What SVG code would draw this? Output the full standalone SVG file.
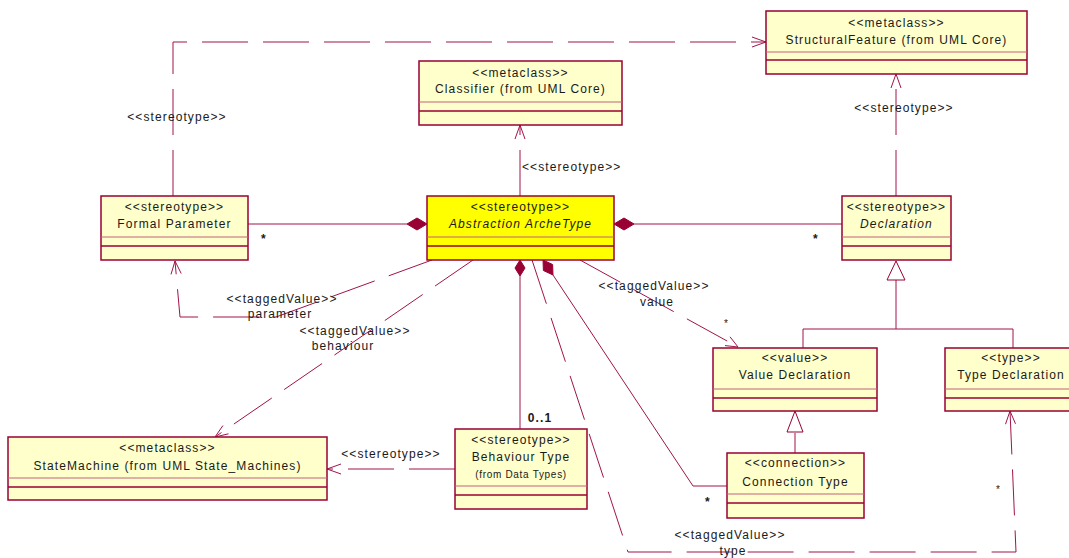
<svg xmlns="http://www.w3.org/2000/svg" width="1069" height="558" viewBox="0 0 1069 558">
<style>
.box{fill:#ffffcc;stroke:#990033;stroke-width:1.5}
.abs{fill:#ffff00;stroke:#990033;stroke-width:1.5}
.sep1{stroke:#c0607a;stroke-width:1}
.sep2{stroke:#990033;stroke-width:1.5}
text{font-family:"Liberation Sans",Arial,sans-serif;font-size:12px;fill:#1a1a1a;letter-spacing:1.1px}
.c{text-anchor:middle}
.it{font-style:italic}
.sm{font-size:10px;letter-spacing:0.7px}
.b{font-weight:bold}
.ln{fill:none;stroke:#a0144a;stroke-width:1}
.dash{stroke-dasharray:46 15}
.arr{fill:none;stroke:#a0144a;stroke-width:1}
.dia{fill:#990033;stroke:#990033;stroke-width:1}
.tri{fill:#ffffff;stroke:#990033;stroke-width:1}
</style>
<rect width="1069" height="558" fill="#ffffff"/>

<g id="connectors">
  <!-- Formal Parameter -> StructuralFeature -->
  <path class="ln dash" d="M173,196 V42 H766"/>
  <path class="arr" d="M752,37 L766,42 L752,47"/>
  <text class="c" x="177" y="121">&lt;&lt;stereotype&gt;&gt;</text>
  <!-- Abstraction -> Classifier -->
  <path class="ln dash" d="M520,196 V125"/>
  <path class="arr" d="M515,139 L520,125 L525,139"/>
  <text x="522" y="171">&lt;&lt;stereotype&gt;&gt;</text>
  <!-- Declaration -> StructuralFeature -->
  <path class="ln dash" d="M896,196 V74"/>
  <path class="arr" d="M891,88 L896,74 L901,88"/>
  <text class="c" x="904" y="112">&lt;&lt;stereotype&gt;&gt;</text>
  <!-- Formal Parameter - Abstraction -->
  <path class="ln" d="M248,224 H407"/>
  <path class="dia" d="M427,224 L417,218 L407,224 L417,230 Z"/>
  <text class="b" x="261" y="243">*</text>
  <!-- Abstraction - Declaration -->
  <path class="ln" d="M634,224 H842"/>
  <path class="dia" d="M614,224 L624,218 L634,224 L624,230 Z"/>
  <text class="b" x="813" y="243">*</text>
  <!-- Generalization to Declaration -->
  <path class="ln" d="M896,280 V329 M803,348 V329 H1013 V348"/>
  <path class="tri" d="M896,261 L887,280 L905,280 Z"/>
  <!-- Generalization to Value Declaration -->
  <path class="ln" d="M795,433 V453"/>
  <path class="tri" d="M795,411 L787,432 L803,432 Z"/>
  <!-- taggedValue value -->
  <path class="ln dash" d="M580,260 L738,347"/>
  <path class="arr" d="M725,345.6 L738,347 L730,336.8"/>
  <text class="c" x="654" y="290">&lt;&lt;taggedValue&gt;&gt;</text>
  <text class="c" x="657" y="306">value</text>
  <text class="sm" x="724" y="327">*</text>
  <!-- taggedValue parameter -->
  <path class="ln dash" d="M432,260 L276,317 H180 L175,261"/>
  <path class="arr" d="M171,274.4 L175,261 L181.2,273.5"/>
  <text class="c" x="282" y="303">&lt;&lt;taggedValue&gt;&gt;</text>
  <text class="c" x="280" y="318">parameter</text>
  <!-- taggedValue behaviour -->
  <path class="ln dash" d="M473,260 L215,437"/>
  <path class="arr" d="M228.5,433.8 L215,437 L222.9,425.6"/>
  <text class="c" x="355" y="335">&lt;&lt;taggedValue&gt;&gt;</text>
  <text class="c" x="343" y="350">behaviour</text>
  <!-- Abstraction - Behaviour Type -->
  <path class="ln" d="M520,276 V429"/>
  <path class="dia" d="M520,260 L525,268 L520,276 L515,268 Z"/>
  <text class="b c" x="540" y="422">0..1</text>
  <!-- Abstraction - Connection Type -->
  <path class="ln" d="M553,275 L693,486 H727"/>
  <path class="dia" d="M543,260 L552.6,264.5 L553,275 L543.4,270.5 Z"/>
  <text class="b" x="705" y="506">*</text>
  <!-- taggedValue type -->
  <path class="ln dash" d="M532,260 L628,552 H1016 L1010,411"/>
  <path class="arr" d="M1005.5,424.2 L1010,411 L1015.5,423.8"/>
  <text class="c" x="730" y="539">&lt;&lt;taggedValue&gt;&gt;</text>
  <text class="c" x="733" y="555">type</text>
  <text class="sm" x="996" y="493">*</text>
  <!-- Behaviour Type -> StateMachine -->
  <path class="ln dash" d="M455,469 H327"/>
  <path class="arr" d="M341,464 L327,469 L341,474"/>
  <text class="c" x="391" y="458">&lt;&lt;stereotype&gt;&gt;</text>
</g>

<g id="structuralFeature">
  <rect class="box" x="766" y="11" width="261" height="63"/>
  <line class="sep1" x1="766" y1="52" x2="1027" y2="52"/>
  <line class="sep2" x1="766" y1="60" x2="1027" y2="60"/>
  <text class="c" x="896.5" y="27">&lt;&lt;metaclass&gt;&gt;</text>
  <text class="c" x="896.5" y="44">StructuralFeature (from UML Core)</text>
</g>

<g id="classifier">
  <rect class="box" x="419" y="61" width="203" height="64"/>
  <line class="sep1" x1="419" y1="102" x2="622" y2="102"/>
  <line class="sep2" x1="419" y1="111" x2="622" y2="111"/>
  <text class="c" x="520.5" y="77">&lt;&lt;metaclass&gt;&gt;</text>
  <text class="c" x="520.5" y="93">Classifier  (from UML Core)</text>
</g>

<g id="abstractionArcheType">
  <rect class="abs" x="427" y="196" width="187" height="64"/>
  <line class="sep1" x1="427" y1="237" x2="614" y2="237"/>
  <line class="sep2" x1="427" y1="246" x2="614" y2="246"/>
  <text class="c" x="520.5" y="211">&lt;&lt;stereotype&gt;&gt;</text>
  <text class="c it" x="520.5" y="228">Abstraction ArcheType</text>
</g>

<g id="formalParameter">
  <rect class="box" x="101" y="196" width="147" height="64"/>
  <line class="sep1" x1="101" y1="237" x2="248" y2="237"/>
  <line class="sep2" x1="101" y1="246" x2="248" y2="246"/>
  <text class="c" x="174.5" y="211">&lt;&lt;stereotype&gt;&gt;</text>
  <text class="c" x="174.5" y="228">Formal Parameter</text>
</g>

<g id="declaration">
  <rect class="box" x="842" y="196" width="109" height="64"/>
  <line class="sep1" x1="842" y1="237" x2="951" y2="237"/>
  <line class="sep2" x1="842" y1="246" x2="951" y2="246"/>
  <text class="c" x="896.5" y="211">&lt;&lt;stereotype&gt;&gt;</text>
  <text class="c it" x="896.5" y="228">Declaration</text>
</g>

<g id="valueDeclaration">
  <rect class="box" x="713" y="348" width="164" height="63"/>
  <line class="sep1" x1="713" y1="389" x2="877" y2="389"/>
  <line class="sep2" x1="713" y1="398" x2="877" y2="398"/>
  <text class="c" x="795" y="362">&lt;&lt;value&gt;&gt;</text>
  <text class="c" x="795" y="379">Value Declaration</text>
</g>

<g id="typeDeclaration">
  <rect class="box" x="945" y="348" width="132" height="63"/>
  <line class="sep1" x1="945" y1="389" x2="1077" y2="389"/>
  <line class="sep2" x1="945" y1="398" x2="1077" y2="398"/>
  <text class="c" x="1011" y="362">&lt;&lt;type&gt;&gt;</text>
  <text class="c" x="1011" y="379">Type Declaration</text>
</g>

<g id="connectionType">
  <rect class="box" x="727" y="453" width="137" height="65"/>
  <line class="sep1" x1="727" y1="494" x2="864" y2="494"/>
  <line class="sep2" x1="727" y1="503" x2="864" y2="503"/>
  <text class="c" x="795.5" y="467">&lt;&lt;connection&gt;&gt;</text>
  <text class="c" x="795.5" y="486">Connection Type</text>
</g>

<g id="stateMachine">
  <rect class="box" x="8" y="437" width="319" height="63"/>
  <line class="sep1" x1="8" y1="478" x2="327" y2="478"/>
  <line class="sep2" x1="8" y1="487" x2="327" y2="487"/>
  <text class="c" x="167.5" y="452">&lt;&lt;metaclass&gt;&gt;</text>
  <text class="c" x="167.5" y="470">StateMachine (from UML State_Machines)</text>
</g>

<g id="behaviourType">
  <rect class="box" x="455" y="429" width="132" height="80"/>
  <line class="sep1" x1="455" y1="486" x2="587" y2="486"/>
  <line class="sep2" x1="455" y1="495" x2="587" y2="495"/>
  <text class="c" x="521" y="444">&lt;&lt;stereotype&gt;&gt;</text>
  <text class="c" x="521" y="461">Behaviour Type</text>
  <text class="c sm" x="521" y="478">(from Data Types)</text>
</g>
</svg>
